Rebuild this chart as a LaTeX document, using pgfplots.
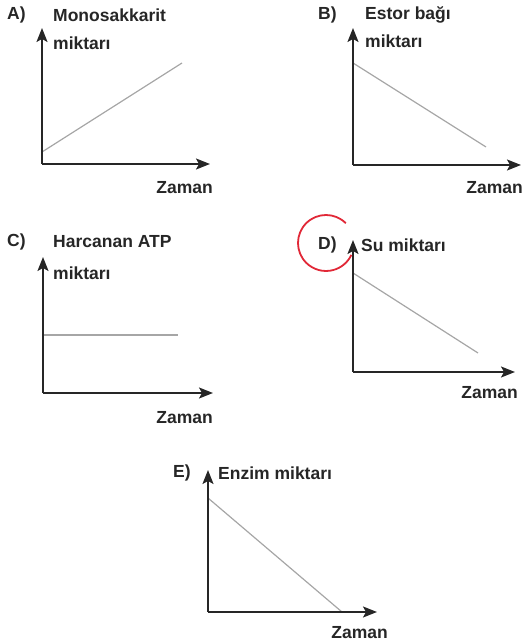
\documentclass[border=0pt]{standalone}
\usepackage{fontspec}
\setmainfont{Liberation Sans}
\usepackage{pgfplots}
\pgfplotsset{compat=1.18}
\usetikzlibrary{arrows.meta}
\tikzset{axarrow/.style={line width=1.5pt, black!85, -{Stealth[length=14pt,width=11pt,inset=3pt]}}}
\pgfplotsset{
  panel/.style={
    scale only axis, anchor=south west,
    axis lines=left, xtick=\empty, ytick=\empty,
    enlargelimits=false, clip=false,
    axis line style={draw=none},
    xmin=0, ymin=0,
  },
  dataline/.style={gray!70, line width=1.2pt, no marks},
}
\newcommand\axarrows[2]{%
  \draw[axarrow] (axis cs:0,0) -- (axis cs:#1,0);
  \draw[axarrow] (axis cs:0,0) -- (axis cs:0,#2);}
\begin{document}
\begin{tikzpicture}[every node/.style={inner sep=0pt, text=black!85, font=\bfseries\fontsize{17.5}{20}\selectfont}]
\useasboundingbox (0pt,0pt) rectangle (526pt,644pt);
% A
\begin{axis}[panel, at={(42pt,480pt)}, width=168pt, height=136pt, xmax=168, ymax=136]
\addplot[dataline] coordinates {(0,12) (140,101)};
\axarrows{168}{136}
\end{axis}
% B
\begin{axis}[panel, at={(353pt,479pt)}, width=168pt, height=137pt, xmax=168, ymax=137]
\addplot[dataline] coordinates {(0,102) (133,18)};
\axarrows{168}{137}
\end{axis}
% C
\begin{axis}[panel, at={(43pt,251pt)}, width=170pt, height=136pt, xmax=170, ymax=136]
\addplot[dataline] coordinates {(0,58) (135,58)};
\axarrows{170}{136}
\end{axis}
% D
\begin{axis}[panel, at={(353pt,272pt)}, width=162pt, height=132pt, xmax=162, ymax=132]
\addplot[dataline] coordinates {(0,99) (125,19)};
\axarrows{162}{132}
\end{axis}
% E
\begin{axis}[panel, at={(208pt,32pt)}, width=169pt, height=142pt, xmax=169, ymax=142]
\addplot[dataline] coordinates {(0,114) (134,0)};
\axarrows{169}{142}
\end{axis}
% labels
\node[anchor=west] at (7pt,629pt) {A)};
\node[anchor=west] at (53pt,629pt) {Monosakkarit};
\node[anchor=west] at (53pt,601pt) {miktarı};
\node[anchor=east] at (213pt,456pt) {Zaman};
\node[anchor=west] at (318pt,629pt) {B)};
\node[anchor=west] at (365pt,629pt) {Estor bağı};
\node[anchor=west] at (365pt,603pt) {miktarı};
\node[anchor=east] at (523pt,456pt) {Zaman};
\node[anchor=west] at (7pt,402pt) {C)};
\node[anchor=west] at (53pt,402pt) {Harcanan ATP};
\node[anchor=west] at (53pt,371pt) {miktarı};
\node[anchor=east] at (213pt,226pt) {Zaman};
\node[anchor=west] at (318pt,399pt) {D)};
\node[anchor=west] at (361pt,399pt) {Su miktarı};
\node[anchor=east] at (518pt,251pt) {Zaman};
\node[anchor=west] at (173pt,171pt) {E)};
\node[anchor=west] at (218pt,171pt) {Enzim miktarı};
\node[anchor=east] at (388pt,11pt) {Zaman};
% red circle annotation
\definecolor{circred}{RGB}{225,40,55}
\draw[circred, line width=1.8pt] (326pt,401pt) ++(45:28pt) arc[start angle=45, end angle=335, radius=28pt];
\end{tikzpicture}
\end{document}
